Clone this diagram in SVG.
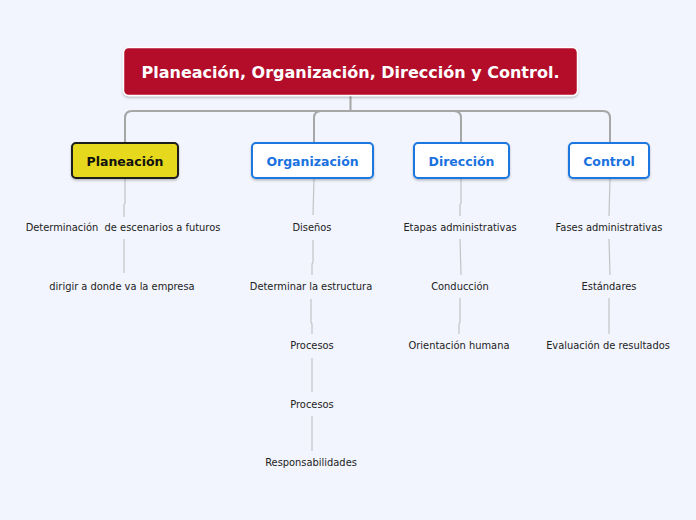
<svg xmlns="http://www.w3.org/2000/svg" width="696" height="520" viewBox="0 0 696 520">
<style>
.bg{fill:#f2f5fd}
.main{stroke:#a6a6a6;stroke-width:2;fill:none}
.sub{stroke:#c4c4c8;stroke-width:1.2;fill:none}
.root{fill:#b30e2b;stroke:#ffffff;stroke-width:1.5}
.roott{font-family:"DejaVu Sans",Verdana,sans-serif;font-weight:bold;font-size:16px;fill:#ffffff;text-anchor:middle}
.topic{fill:#ffffff;stroke:#1a78e0;stroke-width:2}
.yellow{fill:#e6d81e;stroke:#1a1a1a;stroke-width:2}
.tt{font-family:"DejaVu Sans",Verdana,sans-serif;font-weight:bold;font-size:12.5px;fill:#1a72e0;text-anchor:middle}
.tk{fill:#111111}
.st{font-family:"DejaVu Sans",Tahoma,sans-serif;font-size:9.9px;fill:#222222;text-anchor:middle}
</style>
<defs>
<filter id="sh" x="-10%" y="-10%" width="120%" height="140%">
<feDropShadow dx="0" dy="1.5" stdDeviation="1.2" flood-color="#000" flood-opacity="0.25"/>
</filter>
</defs>
<rect class="bg" x="0" y="0" width="696" height="520"/>
<g id="connectors">
<path class="main" d="M350.5 96 V111"/>
<path class="main" d="M125 143 V118 Q125 111 132 111 H603 Q610 111 610 118 V143"/>
<path class="main" d="M314 143 V118 Q314 111 321 111"/>
<path class="main" d="M461 143 V118 Q461 111 454 111"/>
<path class="sub" d="M125 179 V203 L124 205 V217"/>
<path class="sub" d="M124 239 V273"/>
<path class="sub" d="M314 179 L313 215"/>
<path class="sub" d="M313 240 V262 L312 264 V275"/>
<path class="sub" d="M311 299 V322 L312 324 V334"/>
<path class="sub" d="M312 358 V392"/>
<path class="sub" d="M312 416 V451"/>
<path class="sub" d="M461 179 V203 L460 205 V216"/>
<path class="sub" d="M460 239 L461 275"/>
<path class="sub" d="M460 298 V322 L459 324 V334"/>
<path class="sub" d="M610 179 L609 216"/>
<path class="sub" d="M609 239 L610 275"/>
<path class="sub" d="M609 298 L609 334"/>
</g>
<g id="root">
<rect class="root" x="123.5" y="47.5" width="454" height="48" rx="5" filter="url(#sh)"/>
<text class="roott" x="350.5" y="78">Planeación, Organización, Dirección y Control.</text>
</g>
<g id="planeacion">
<rect class="yellow" x="72" y="143" width="106" height="35" rx="4" filter="url(#sh)"/>
<text class="tt tk" x="125" y="165.5">Planeación</text>
</g>
<g id="organizacion">
<rect class="topic" x="252" y="143" width="121" height="35" rx="4" filter="url(#sh)"/>
<text class="tt" x="312.5" y="165.5">Organización</text>
</g>
<g id="direccion">
<rect class="topic" x="414" y="143" width="95" height="35" rx="4" filter="url(#sh)"/>
<text class="tt" x="461.5" y="165.5">Dirección</text>
</g>
<g id="control">
<rect class="topic" x="569" y="143" width="80" height="35" rx="4" filter="url(#sh)"/>
<text class="tt" x="609" y="165.5">Control</text>
</g>
<g id="p1"><text class="st" x="123" y="231" xml:space="preserve">Determinación  de escenarios a futuros</text></g>
<g id="p2"><text class="st" x="122" y="290">dirigir a donde va la empresa</text></g>
<g id="o1"><text class="st" x="312" y="231">Diseños</text></g>
<g id="o2"><text class="st" x="311" y="290">Determinar la estructura</text></g>
<g id="o3"><text class="st" x="312" y="349">Procesos</text></g>
<g id="o4"><text class="st" x="312" y="408">Procesos</text></g>
<g id="o5"><text class="st" x="311" y="466">Responsabilidades</text></g>
<g id="d1"><text class="st" x="460" y="231">Etapas administrativas</text></g>
<g id="d2"><text class="st" x="460" y="290">Conducción</text></g>
<g id="d3"><text class="st" x="459" y="349">Orientación humana</text></g>
<g id="c1"><text class="st" x="609" y="231">Fases administrativas</text></g>
<g id="c2"><text class="st" x="609" y="290">Estándares</text></g>
<g id="c3"><text class="st" x="608" y="349">Evaluación de resultados</text></g>
</svg>
